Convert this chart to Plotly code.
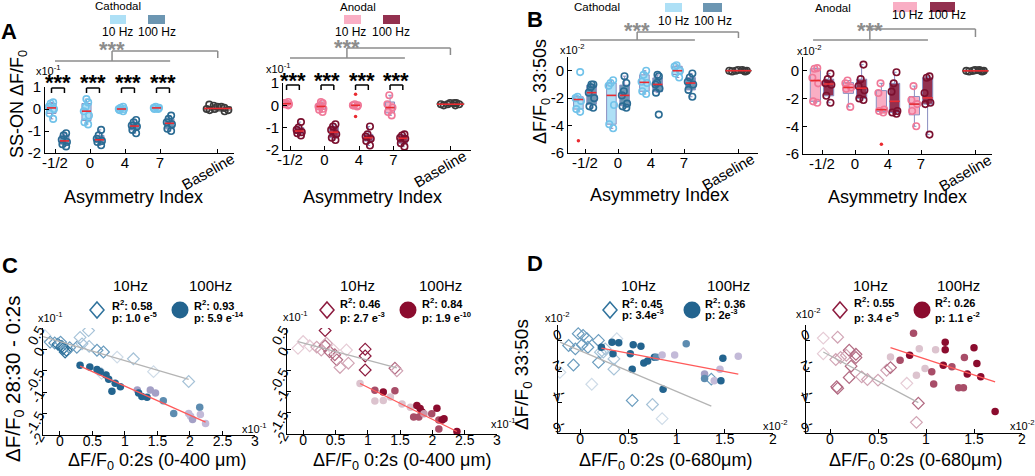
import numpy as np
import plotly.graph_objects as go

W, H = 1035, 476
FONT = "Liberation Sans, Arial, Helvetica, sans-serif"

# ======================= DATA =======================
asym_labels = ['-1/2', '0', '4', '7']
asym_pos = [1, 2, 3, 4]
baseline_pos = 5.65

# ---- Panel A : SS-ON dF/F0 (x10^-1) ----
A_cath_10 = [[0.3, 0.25, 0.1, 0.0, -0.2, -0.45],
             [0.45, 0.3, 0.1, -0.1, -0.3, -0.6, -0.7],
             [0.1, 0.05, 0.0, -0.05, -0.1, 0.0],
             [0.1, 0.05, 0.05, 0.0, 0.0]]
A_cath_100 = [[-1.1, -1.2, -1.4, -1.5, -1.6, -1.7],
              [-0.95, -1.2, -1.35, -1.45, -1.5, -1.65],
              [-0.5, -0.6, -0.75, -0.8, -0.95, -1.1],
              [-0.3, -0.45, -0.6, -0.7, -0.9, -1.0]]
A_cath_base = [0.2, 0.15, 0.1, 0.05, 0.0, 0.0, -0.05, -0.1, 0.1, -0.05]

A_anod_10 = [[0.15, 0.1, 0.05, 0.05, 0.0, 0.1],
             [0.15, 0.1, 0.0, -0.05, -0.15, -0.2, -0.3],
             [0.05, 0.0, 0.0, -0.05, 0.0],
             [0.45, 0.05, -0.1, -0.3, -0.45]]
A_anod_100 = [[-0.75, -1.0, -1.1, -1.2, -1.25, -1.35],
              [-0.85, -0.95, -1.1, -1.3, -1.45, -1.55],
              [-0.95, -1.3, -1.4, -1.5, -1.6, -1.8],
              [-1.3, -1.35, -1.45, -1.5, -1.7, -1.85]]
A_anod_base = [0.1, 0.05, 0.0, 0.1, 0.05, 0.0, 0.1, 0.05]
A_anod_10_out = [[], [], [0.5, -0.5], []]

# ---- Panel B : dF/F0 33:50s (x10^-2) ----
B_cath_10 = [[-0.1, -1.9, -2.0, -2.2, -2.8, -3.0],
             [-0.7, -0.9, -1.1, -2.5, -3.9, -4.2],
             [0.0, -0.3, -0.8, -0.9, -1.5, -1.7],
             [0.4, 0.3, 0.0, -0.2, -0.5]]
B_cath_100 = [[-1.0, -1.0, -1.2, -1.6, -2.0, -2.6, -2.7],
              [-0.4, -0.9, -1.5, -1.8, -2.4, -2.6, -2.7],
              [-0.3, -0.4, -0.9, -1.0, -1.3, -1.6, -3.2],
              [-0.2, -0.5, -0.8, -1.0, -1.4, -1.9]]
B_cath_base = [0.05, 0.0, -0.05, 0.0, 0.05, 0.0, -0.05, 0.0]
B_cath_10_out = [[-5.1], [], [], []]

B_anod_10 = [[0.2, 0.15, -0.5, -0.9, -2.2, -2.3],
             [-0.7, -0.9, -1.2, -1.3, -2.6],
             [-0.9, -1.6, -2.8, -2.9, -3.0],
             [-1.1, -2.1, -2.4, -2.9, -4.0]]
B_anod_100 = [[-0.2, -0.6, -0.9, -1.0, -1.8, -2.3],
              [0.45, -0.6, -1.1, -1.4, -2.0, -2.1],
              [-0.1, -0.9, -1.5, -2.9, -3.0, -3.1],
              [-0.4, -0.5, -1.6, -2.3, -2.4, -4.6]]
B_anod_base = [0.05, 0.0, -0.05, 0.0, 0.05, 0.0, -0.05, 0.0]
B_anod_10_out = [[], [], [-5.3], []]

# ---- Panel C : dF/F0 28:30-0:2s vs dF/F0 0:2s (x10^-1) ----
C_cath_10_x = [-0.23, -0.15, -0.08, -0.03, 0.01, 0.03, 0.05, 0.08, 0.10, 0.15, 0.26,
               0.31, 0.34, 0.44, 0.45, 0.57, 0.67, 0.88, 1.13, 1.44, 1.98, 0.64]
C_cath_10_y = [0.32, 0.17, 0.15, 0.12, 0.17, 0.07, 0.02, -0.06, -0.02, 0.04, 0.05,
               0.28, 0.13, 0.44, 0.07, -0.02, -0.06, -0.18, -0.22, -0.52, -0.75, -0.56]
C_cath_10_g = [3, 1, 1, 0, 1, 0, 0, 0, 0, 1, 1, 2, 2, 2, 2, 1, 1, 3, 2, 3, 2, 3]
C_cath_100_x = [0.31, 0.46, 0.57, 0.62, 0.71, 0.75, 0.85, 0.80, 0.93, 1.19, 1.21, 1.26,
                1.34, 1.39, 1.47, 1.59, 1.75, 1.98, 2.01, 2.04, 2.15, 2.16, 2.24]
C_cath_100_y = [-0.37, -0.41, -0.47, -0.52, -0.60, -0.70, -0.79, -0.98, -0.87, -0.95, -1.02, -1.10,
                -1.12, -0.95, -1.02, -1.20, -1.50, -1.50, -1.56, -1.64, -1.35, -1.52, -1.73]
C_cath_100_g = [0, 0, 0, 0, 0, 0, 0, 0, 0, 2, 0, 0, 0, 2, 2, 1, 1, 3, 3, 2, 1, 3, 3]
C_cath_fit10 = ([-0.26, 1.98], [0.30, -0.70])
C_cath_fit100 = ([0.31, 2.24], [-0.39, -1.70])
C_cath_stats = ('0.58', '1.0 e<sup>-5</sup>', '0.93', '5.9 e<sup>-14</sup>')

C_anod_10_x = [-0.08, 0.0, 0.10, 0.21, 0.28, 0.34, 0.36, 0.34, 0.41, 0.49, 0.52, 0.57, 0.70,
               0.67, 0.96, 0.96, 0.96, 1.42, 1.45, 0.47]
C_anod_10_y = [0.02, 0.18, 0.08, 0.05, -0.02, 0.08, 0.14, 0.44, -0.06, -0.13, -0.25, -0.43, -0.33,
               -0.02, 0.0, -0.16, -0.49, -0.45, -0.51, -0.02]
C_anod_10_g = [3, 3, 3, 2, 2, 1, 2, 0, 1, 1, 1, 2, 2, 3, 0, 0, 0, 1, 2, 3]
C_anod_100_x = [0.88, 1.11, 1.24, 1.24, 1.42, 1.11, 1.35, 1.53, 1.66, 1.76, 1.81, 1.84, 1.71, 1.79,
                1.87, 1.99, 2.07, 2.10, 2.15, 2.18, 2.10, 2.38]
C_anod_100_y = [-0.81, -0.97, -1.01, -1.21, -0.98, -1.22, -1.13, -1.29, -1.37, -1.33, -1.40, -1.48,
                -1.60, -1.60, -1.52, -1.52, -1.39, -1.67, -1.67, -1.64, -1.88, -1.94]
C_anod_100_g = [3, 1, 0, 3, 1, 3, 3, 3, 3, 0, 0, 0, 1, 1, 2, 1, 0, 1, 0, 0, 1, 0]
C_anod_fit10 = ([-0.08, 1.45], [0.18, -0.44])
C_anod_fit100 = ([0.88, 2.38], [-0.81, -1.94])
C_anod_stats = ('0.46', '2.7 e<sup>-3</sup>', '0.84', '1.9 e<sup>-10</sup>')

# ---- Panel D : dF/F0 33:50s vs dF/F0 0:2s (x10^-2) ----
D_cath_10_x = [-0.21, -0.12, -0.05, -0.02, 0.02, 0.03, 0.07, 0.08, 0.19, 0.21, 0.19, -0.07, 0.12,
               0.26, 0.38, 0.35, 0.35, 0.54, 0.75, 0.85, 1.36, 0.24]
D_cath_10_y = [-2.07, -0.33, -0.55, 0.44, -0.28, 0.33, 0.11, -0.44, 0.0, -0.76, -1.42, -1.59, -2.84,
               -0.55, 0.11, -1.20, -1.86, -3.89, -4.15, -5.07, -2.51, -0.76]
D_cath_10_g = [3, 1, 1, 1, 1, 1, 1, 1, 1, 2, 1, 1, 3, 2, 3, 2, 2, 1, 2, 3, 1, 2]
D_cath_100_x = [0.22, 0.33, 0.34, 0.40, 0.52, 0.55, 0.63, 0.66, 0.70, 0.77, 0.79, 0.54, 0.86, 1.10,
                0.85, 0.98, 1.29, 1.29, 1.39, 1.46, 1.45, 1.48, 1.64]
D_cath_100_y = [-0.44, -0.11, -0.87, -0.15, -0.87, -0.28, -0.37, -1.46, -1.33, -1.09, -1.09, -1.86,
                -3.17, -0.22, -0.94, -0.94, -2.18, -2.47, -2.62, -2.62, -1.86, -1.16, -1.03]
D_cath_100_g = [0, 0, 0, 0, 0, 0, 0, 0, 0, 0, 1, 0, 0, 1, 3, 3, 2, 1, 3, 0, 3, 0, 3]
D_cath_fit10 = ([-0.21, 1.36], [-0.11, -4.26])
D_cath_fit100 = ([0.22, 1.64], [-0.50, -2.18])
D_cath_stats = ('0.45', '3.4e<sup>-3</sup>', '0.36', '2e<sup>-3</sup>')

D_anod_10_x = [-0.07, 0.08, -0.07, 0.06, 0.11, 0.17, 0.20, 0.22, 0.20, 0.27, 0.27, 0.07, 0.08, 0.33,
               0.39, 0.50, 0.59, 0.63, 0.80, 0.92, 0.90]
D_anod_10_y = [0.15, 0.21, -0.86, -1.24, -1.11, -0.96, -0.64, -1.67, -2.40, -0.90, -1.11, -3.00,
               -3.10, -2.36, -2.53, -2.57, -1.93, -1.76, -2.78, -4.07, -5.31]
D_anod_10_g = [3, 2, 3, 2, 2, 2, 1, 1, 1, 1, 1, 1, 1, 2, 2, 2, 2, 1, 3, 1, 2]
D_anod_100_x = [0.87, 0.93, 0.83, 0.63, 0.73, 0.99, 1.06, 1.08, 1.20, 1.20, 1.10, 1.18, 1.27, 1.40,
                1.34, 1.39, 1.43, 1.50, 1.53, 1.57, 1.72, 0.90]
D_anod_100_y = [0.47, -0.54, -0.96, -1.07, -1.28, -1.82, -2.03, -2.83, -0.11, -0.60, -0.60, -1.61,
                -1.71, -1.11, -3.06, -3.06, -2.18, -0.47, -1.50, -2.36, -4.60, -2.25]
D_anod_100_g = [1, 3, 0, 3, 1, 3, 1, 1, 0, 0, 3, 0, 1, 1, 1, 1, 0, 0, 0, 0, 0, 3]
D_anod_fit10 = ([-0.07, 0.92], [-0.75, -4.03])
D_anod_fit100 = ([0.63, 1.72], [-0.47, -2.68])
D_anod_stats = ('0.55', '3.4 e<sup>-5</sup>', '0.26', '1.1 e<sup>-2</sup>')

# ======================= STYLE =======================
CATH10_FILL, CATH10_MK = 'rgba(160,218,245,0.85)', '#72c3ea'
CATH100_FILL, CATH100_MK = 'rgba(82,132,165,0.85)', '#2a6b93'
ANOD10_FILL, ANOD10_MK = 'rgba(248,165,190,0.9)', '#f07898'
ANOD100_FILL, ANOD100_MK = 'rgba(135,25,60,0.9)', '#7a0f2e'
BOX_LINE = '#8a8ec0'
MED_RED = '#ea2a30'
CATH_DIA = ['#2f729c', '#6a9cbe', '#a7c3d8', '#cfdce8']
CATH_CIR = ['#23648f', '#5d8cb0', '#a4a0c6', '#c3bad8']
ANOD_DIA = ['#8c1a3e', '#b26a82', '#d1a4b4', '#e6ccd6']
ANOD_CIR = ['#8b0c2e', '#a84d68', '#c99aad', '#dcc3ce']

def box_geom(x0, x1, yt, yb, t1, s, yr):
    return dict(x0=x0, x1=x1, yt=yt, yb=yb, xr=(1 - (t1 - x0) / s, 1 + (x1 - t1) / s), yr=yr)

panels = {
    1: box_geom(45, 234, 87, 153, 55, 35.0, (-2, 1)),
    2: box_geom(283, 471, 83, 150, 290, 34.5, (-2, 1)),
    3: box_geom(568, 758, 57, 153, 585, 33.0, (-6, 1)),
    4: box_geom(803, 992, 57, 154, 822, 33.0, (-6, 1)),
    5: dict(x0=43, x1=255, yt=328, yb=435, xr=(-0.26, 3.0), yr=(-2, 0.5)),
    6: dict(x0=287, x1=497, yt=328, yb=434, xr=(-0.25, 3.0), yr=(-2, 0.5)),
    7: dict(x0=558, x1=773, yt=325, yb=433, xr=(-0.23, 2.0), yr=(-6, 1)),
    8: dict(x0=806, x1=1022, yt=325, yb=433, xr=(-0.25, 2.0), yr=(-6, 1)),
}

def xpx(i, v):
    p = panels[i]
    return p['x0'] + (v - p['xr'][0]) / (p['xr'][1] - p['xr'][0]) * (p['x1'] - p['x0'])

fig = go.Figure()
shapes, annots = [], []

def PX(x):
    return x / W

def PY(y):
    return 1 - y / H

def line_px(x0, y0, x1, y1, color, width=1.5):
    shapes.append(dict(type='line', xref='paper', yref='paper', x0=PX(x0), y0=PY(y0),
                       x1=PX(x1), y1=PY(y1), line=dict(color=color, width=width)))

def rect_px(x0, y0, x1, y1, fill):
    shapes.append(dict(type='rect', xref='paper', yref='paper', x0=PX(x0), y0=PY(y0),
                       x1=PX(x1), y1=PY(y1), fillcolor=fill, line=dict(width=0)))

def text_px(x, y, t, size=11, color='black', angle=0, xanchor='center', bold=False):
    if bold:
        t = '<b>' + t + '</b>'
    annots.append(dict(x=PX(x), y=PY(y), xref='paper', yref='paper', text=t, showarrow=False,
                       xanchor=xanchor, yanchor='middle', textangle=angle,
                       font=dict(family=FONT, size=size, color=color)))

def ax(i):
    return dict(xaxis='x' if i == 1 else f'x{i}', yaxis='y' if i == 1 else f'y{i}')

def add_box(i, pos, vals, fill, mk, width, lcolor=BOX_LINE, jitter=0.7, msize=6.5):
    fig.add_trace(go.Box(x=[pos] * len(vals), y=vals, width=width, fillcolor=fill,
                         line=dict(color=lcolor, width=1), boxpoints='all', jitter=jitter,
                         pointpos=0, whiskerwidth=0.4,
                         marker=dict(symbol='circle-open', color=mk, size=msize, line=dict(width=1.6)),
                         showlegend=False, hoverinfo='skip', **ax(i)))
    med = float(np.median(vals))
    fig.add_trace(go.Scatter(x=[pos - width / 2, pos + width / 2], y=[med, med], mode='lines',
                             line=dict(color=MED_RED, width=1.6), showlegend=False,
                             hoverinfo='skip', **ax(i)))

def box_panel(i, d10, d100, base, f10, m10, f100, m100, off, bw, out10):
    for k, pos in enumerate(asym_pos):
        add_box(i, pos + off[0], d10[k], f10, m10, bw)
        add_box(i, pos + off[1], d100[k], f100, m100, bw)
        if out10[k]:
            fig.add_trace(go.Scatter(x=[pos + off[0]] * len(out10[k]), y=out10[k], mode='markers',
                                     marker=dict(color=MED_RED, size=3.5), showlegend=False,
                                     hoverinfo='skip', **ax(i)))
    add_box(i, baseline_pos, base, 'rgba(110,110,110,0.35)', '#3a3a3a', 0.78,
            lcolor='#777777', jitter=1.0, msize=6.5)

box_panel(1, A_cath_10, A_cath_100, A_cath_base, CATH10_FILL, CATH10_MK, CATH100_FILL, CATH100_MK,
          (-0.1, 0.27), 0.26, [[], [], [], []])
box_panel(2, A_anod_10, A_anod_100, A_anod_base, ANOD10_FILL, ANOD10_MK, ANOD100_FILL, ANOD100_MK,
          (-0.1, 0.27), 0.26, A_anod_10_out)
box_panel(3, B_cath_10, B_cath_100, B_cath_base, CATH10_FILL, CATH10_MK, CATH100_FILL, CATH100_MK,
          (-0.2, 0.2), 0.29, B_cath_10_out)
box_panel(4, B_anod_10, B_anod_100, B_anod_base, ANOD10_FILL, ANOD10_MK, ANOD100_FILL, ANOD100_MK,
          (-0.2, 0.2), 0.31, B_anod_10_out)

def scatter_panel(i, x10, y10, g10, x100, y100, g100, dia, cir, f10, f100):
    fig.add_trace(go.Scatter(x=x10, y=y10, mode='markers',
                             marker=dict(symbol='diamond-open', size=9, color=[dia[g] for g in g10],
                                         line=dict(width=1.2)),
                             showlegend=False, hoverinfo='skip', **ax(i)))
    fig.add_trace(go.Scatter(x=x100, y=y100, mode='markers',
                             marker=dict(symbol='circle', size=7.5, color=[cir[g] for g in g100]),
                             showlegend=False, hoverinfo='skip', **ax(i)))
    fig.add_trace(go.Scatter(x=f10[0], y=f10[1], mode='lines', line=dict(color='#b4b4b4', width=1.3),
                             showlegend=False, hoverinfo='skip', **ax(i)))
    fig.add_trace(go.Scatter(x=f100[0], y=f100[1], mode='lines', line=dict(color='#ff5a5a', width=1.3),
                             showlegend=False, hoverinfo='skip', **ax(i)))

scatter_panel(5, C_cath_10_x, C_cath_10_y, C_cath_10_g, C_cath_100_x, C_cath_100_y, C_cath_100_g,
              CATH_DIA, CATH_CIR, C_cath_fit10, C_cath_fit100)
scatter_panel(6, C_anod_10_x, C_anod_10_y, C_anod_10_g, C_anod_100_x, C_anod_100_y, C_anod_100_g,
              ANOD_DIA, ANOD_CIR, C_anod_fit10, C_anod_fit100)
scatter_panel(7, D_cath_10_x, D_cath_10_y, D_cath_10_g, D_cath_100_x, D_cath_100_y, D_cath_100_g,
              CATH_DIA, CATH_CIR, D_cath_fit10, D_cath_fit100)
scatter_panel(8, D_anod_10_x, D_anod_10_y, D_anod_10_g, D_anod_100_x, D_anod_100_y, D_anod_100_g,
              ANOD_DIA, ANOD_CIR, D_anod_fit10, D_anod_fit100)

# ======================= AXES =======================
layout = dict(width=W, height=H, margin=dict(l=0, r=0, t=0, b=0, autoexpand=False),
              paper_bgcolor='white', plot_bgcolor='rgba(0,0,0,0)', showlegend=False)

def base_axis(**kw):
    d = dict(showline=True, linecolor='black', linewidth=1, ticks='inside', ticklen=4,
             tickcolor='black', showgrid=False, zeroline=False, mirror=False, automargin=False,
             tickfont=dict(family=FONT, size=15, color='black'))
    d.update(kw)
    return d

TF14 = dict(family=FONT, size=14, color='black')
for i, p in panels.items():
    xn = 'xaxis' if i == 1 else f'xaxis{i}'
    yn = 'yaxis' if i == 1 else f'yaxis{i}'
    xa = base_axis(domain=[PX(p['x0']), PX(p['x1'])], range=list(p['xr']),
                   anchor='y' if i == 1 else f'y{i}')
    ya = base_axis(domain=[PY(p['yb']), PY(p['yt'])], range=list(p['yr']),
                   anchor='x' if i == 1 else f'x{i}')
    if i <= 4:
        xa.update(tickvals=asym_pos + [baseline_pos], ticktext=asym_labels + [''], ticklabelstandoff=-4)
        if i <= 2:
            ya.update(tickvals=[-2, -1, 0, 1], ticktext=['-2', '-1', '0', '1'])
        else:
            ya.update(tickvals=[-6, -4, -2, 0], ticktext=['-6', '-4', '-2', '0'])
    elif i <= 6:
        xa.update(tickvals=[0, 0.5, 1, 1.5, 2, 2.5, 3], ticktext=['0', '0.5', '1', '1.5', '2', '2.5', '3'],
                  tickfont=TF14, ticklabelstandoff=-7)
        ya.update(tickvals=[-2, -1.5, -1, -0.5, 0, 0.5],
                  ticktext=['-2', '-1.5', '-1', '-0.5', '0', '0.5'], tickangle=-60, tickfont=TF14)
    else:
        xa.update(tickvals=[0, 0.5, 1, 1.5, 2], ticktext=['0', '0.5', '1', '1.5', '2'],
                  tickfont=TF14, ticklabelstandoff=-7)
        ya.update(tickvals=[-6, -4, -2, 0], ticktext=['-6', '-4', '-2', '0'], tickangle=160,
                  tickfont=TF14)
    layout[xn] = xa
    layout[yn] = ya

# ======================= DECORATIONS =======================
for i in (1, 2, 3, 4):
    p = panels[i]
    text_px(xpx(i, baseline_pos) - 10, p['yb'] + 18, 'Baseline', size=15, angle=-30)

grey_br = [(1, 1.0, 4.29, 2.63, 61, 51, 58, 45), (2, 1.0, 4.33, 2.65, 58, 48, 55, 43),
           (3, 0.85, 4.33, 2.58, 40, 32, 38, 25), (4, 0.73, 4.21, 2.45, 40, 29, 37, 25)]
GREY = '#8c8c8c'
for i, xl, xr_, xm, yh, ytop, ydrop, sy in grey_br:
    line_px(xpx(i, xl), yh, xpx(i, xr_), yh, GREY)
    line_px(xpx(i, xm), yh, xpx(i, xm), ytop, GREY)
    line_px(xpx(i, xm), ytop, xpx(i, baseline_pos), ytop, GREY)
    line_px(xpx(i, baseline_pos), ytop, xpx(i, baseline_pos), ydrop, GREY)
    text_px(xpx(i, xm), sy + 5, '***', size=22, color=GREY, bold=True)

for i, yb_, sy in ((1, 88, 80), (2, 85, 78)):
    for pos in asym_pos:
        xa_, xb_ = xpx(i, pos - 0.1), xpx(i, pos + 0.27)
        line_px(xa_, yb_, xb_, yb_, 'black', 1.5)
        line_px(xa_, yb_, xa_, yb_ + 5, 'black', 1.5)
        line_px(xb_, yb_, xb_, yb_ + 5, 'black', 1.5)
        text_px((xa_ + xb_) / 2, sy + 2, '***', size=22, bold=True)

leg = [
    ('Cathodal', (118, 6), (110, 15, 126, 24), (148, 15, 165, 24), (117, 32), (157, 32), CATH10_FILL, CATH100_FILL),
    ('Anodal', (358, 7), (344, 15, 361, 24), (383, 15, 400, 24), (350, 32), (391, 32), ANOD10_FILL, ANOD100_FILL),
    ('Cathodal', (597, 7), (665, 3, 682, 12), (703, 3, 722, 12), (673, 21), (713, 21), CATH10_FILL, CATH100_FILL),
    ('Anodal', (833, 8), (893, 2, 917, 12), (930, 2, 955, 12), (907, 15), (947, 15), ANOD10_FILL, ANOD100_FILL),
]
for t, txy, r1, r2, l1, l2, c1, c2 in leg:
    text_px(txy[0], txy[1], t, size=11.5)
    rect_px(r1[0], r1[1], r1[2], r1[3], c1)
    rect_px(r2[0], r2[1], r2[2], r2[3], c2)
    text_px(l1[0], l1[1], '10 Hz', size=12)
    text_px(l2[0], l2[1], '100 Hz', size=12)

for t, x, y in (('A', 9, 32), ('B', 535, 20), ('C', 10, 265), ('D', 535, 263)):
    text_px(x, y, t, size=22, bold=True)

EXP1, EXP2 = 'x10<sup>-1</sup>', 'x10<sup>-2</sup>'
for x, y, t in ((48, 70, EXP1), (278, 68, EXP1), (572, 49, EXP2), (809, 50, EXP2),
                (50, 317, EXP1), (254, 428, EXP1), (295, 316, EXP1), (503, 423, EXP1),
                (557, 317, EXP2), (775, 425, EXP2), (808, 313, EXP2), (1022, 425, EXP2)):
    text_px(x, y, t, size=11)

for x, y in ((133, 197), (372, 197), (659, 195), (897, 197)):
    text_px(x, y, 'Asymmetry Index', size=18)
text_px(18, 104, 'SS-ON ΔF/F<sub>0</sub>', size=18, angle=-90)
text_px(542, 92, 'ΔF/F<sub>0</sub> 33:50s', size=18, angle=-90)
text_px(14, 379, 'ΔF/F<sub>0</sub> 28:30 - 0:2s', size=20.5, angle=-90)
text_px(523, 375, 'ΔF/F<sub>0</sub> 33:50s', size=19, angle=-90)
for x, t in ((157, 'ΔF/F<sub>0</sub> 0:2s (0-400 μm)'), (402, 'ΔF/F<sub>0</sub> 0:2s (0-400 μm)'),
             (665, 'ΔF/F<sub>0</sub> 0:2s (0-680μm)'), (915, 'ΔF/F<sub>0</sub> 0:2s (0-680μm)')):
    text_px(x, 461, t, size=18)

sleg = [(130, 210, 97, 180, 110, 192, 305, 317, C_cath_stats, CATH_DIA[0], CATH_CIR[0]),
        (357, 440, 327, 408, 338, 420, 303, 317, C_anod_stats, ANOD_DIA[0], ANOD_CIR[0]),
        (638, 728, 610, 692, 620, 703, 303, 314, D_cath_stats, CATH_DIA[0], CATH_CIR[0]),
        (870, 958, 840, 922, 852, 933, 302, 317, D_anod_stats, ANOD_DIA[0], ANOD_CIR[0])]
for l1, l2, dcx, ccx, t1, t2, yR, yp, st, dcol, ccol in sleg:
    text_px(l1, 285, '10Hz', size=15)
    text_px(l2, 285, '100Hz', size=15)
    cy = 310
    path = (f'M {PX(dcx)},{PY(cy - 8)} L {PX(dcx + 7)},{PY(cy)} L {PX(dcx)},{PY(cy + 8)} '
            f'L {PX(dcx - 7)},{PY(cy)} Z')
    shapes.append(dict(type='path', xref='paper', yref='paper', path=path,
                       line=dict(color=dcol, width=1.5), fillcolor='rgba(0,0,0,0)'))
    shapes.append(dict(type='circle', xref='paper', yref='paper', x0=PX(ccx - 8.5), x1=PX(ccx + 8.5),
                       y0=PY(cy + 8.5), y1=PY(cy - 8.5), fillcolor=ccol, line=dict(width=0)))
    text_px(t1, yR, 'R<sup>2</sup>: ' + st[0], size=11, xanchor='left', bold=True)
    text_px(t1, yp, 'p: ' + st[1], size=11, xanchor='left', bold=True)
    text_px(t2, yR, 'R<sup>2</sup>: ' + st[2], size=11, xanchor='left', bold=True)
    text_px(t2, yp, 'p: ' + st[3], size=11, xanchor='left', bold=True)

layout['shapes'] = shapes
layout['annotations'] = annots
fig.update_layout(**layout)
fig.write_html('out.html', config={'displayModeBar': False},
               post_script="document.body.style.margin='0';document.body.style.overflow='hidden';")
